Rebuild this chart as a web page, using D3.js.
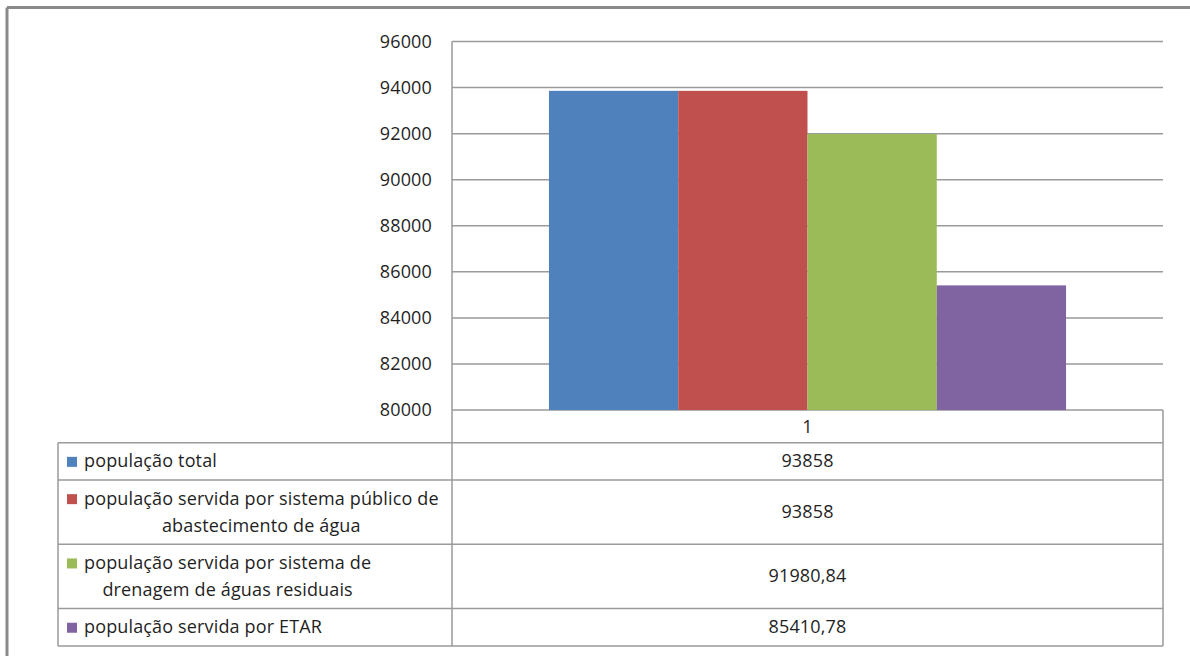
<!DOCTYPE html>
<html>
<head>
<meta charset="utf-8">
<script src="https://cdn.jsdelivr.net/npm/d3@7"></script>
<style>
  html, body { margin: 0; padding: 0; background: #fff; }
  svg { display: block; font-family: "Open Sans", "Noto Sans", sans-serif; letter-spacing: 0.15px; }
</style>
</head>
<body>
<svg id="chart" width="1190" height="656"></svg>
<script>
// Categories on the horizontal axis
const categories = ["1"];

// Series names (line breaks as shown in the data table)
const seriesNames = [
  ["população total"],
  ["população servida por sistema público de", "abastecimento de água"],
  ["população servida por sistema de", "drenagem de águas residuais"],
  ["população servida por ETAR"]
];

// One value per series for category "1"
const seriesValues = [93858, 93858, 91980.84, 85410.78];

// Series colours
const seriesColors = ["#4F81BD", "#C0504D", "#9BBB59", "#8064A2"];

// Value axis ticks
const yTicks = [80000, 82000, 84000, 86000, 88000, 90000, 92000, 94000, 96000];

const svg = d3.select("#chart");
const W = 1190, H = 656;

// Layout
const plotLeft = 452, plotRight = 1163, plotTop = 41.5, plotBottom = 410;
const tableLeft = 58;
const headerH = 32.7, rowBase = 37.3, lineStep = 27;
const gridColor = "#9a9a9a", tableColor = "#9a9a9a", textColor = "#1f1f1f";
const fontSize = 18;

// Outer frame (top and left edges)
svg.append("line").attr("x1", 7).attr("x2", W).attr("y1", 7.5).attr("y2", 7.5)
  .attr("stroke", "#8a8a8a").attr("stroke-width", 3);
svg.append("line").attr("x1", 7).attr("x2", 7).attr("y1", 7.5).attr("y2", H)
  .attr("stroke", "#8a8a8a").attr("stroke-width", 3);

// Scales
const y = d3.scaleLinear().domain([80000, 96000]).range([plotBottom, plotTop]);
const x0 = d3.scaleBand().domain(categories).range([plotLeft, plotRight]).padding(0);
// gap width 150%: 0.75 bar width on each side of the bar group
const bw = x0.bandwidth();
const barW = bw / (seriesValues.length + 1.5);
const x1 = d3.scaleBand().domain(d3.range(seriesValues.length))
  .range([barW * 0.75, bw - barW * 0.75]).padding(0);

// Tick labels via an axis
const yAxis = d3.axisLeft(y).tickValues(yTicks).tickSize(0).tickPadding(20)
  .tickFormat(d3.format("d"));
const gy = svg.append("g").attr("transform", `translate(${plotLeft},0)`).call(yAxis);
gy.select(".domain").remove();
gy.selectAll("text").attr("font-size", fontSize).attr("fill", textColor)
  .attr("font-family", "Open Sans, Noto Sans, sans-serif");

// Gridlines
svg.append("g").selectAll("line").data(yTicks).join("line")
  .attr("x1", plotLeft).attr("x2", plotRight)
  .attr("y1", d => y(d)).attr("y2", d => y(d))
  .attr("stroke", gridColor).attr("stroke-width", 1.5);

// Bars
const gBars = svg.append("g");
categories.forEach(cat => {
  gBars.selectAll(null).data(seriesValues).join("rect")
    .attr("x", (d, i) => x0(cat) + x1(i))
    .attr("width", x1.bandwidth())
    .attr("y", d => y(d))
    .attr("height", d => y(80000) - y(d))
    .attr("fill", (d, i) => seriesColors[i]);
});

// Data table
const rowHeights = seriesNames.map(lines => rowBase + lineStep * (lines.length - 1));
const rowTops = [];
let acc = plotBottom + headerH;
rowHeights.forEach(h => { rowTops.push(acc); acc += h; });
const tableBottom = acc;

const gT = svg.append("g");
// horizontal rules
rowTops.concat([tableBottom]).forEach(yy => {
  gT.append("line").attr("x1", tableLeft).attr("x2", plotRight)
    .attr("y1", yy).attr("y2", yy).attr("stroke", tableColor).attr("stroke-width", 1.5);
});
// verticals
gT.append("line").attr("x1", plotLeft).attr("x2", plotLeft)
  .attr("y1", plotTop).attr("y2", tableBottom).attr("stroke", tableColor).attr("stroke-width", 1.5);
gT.append("line").attr("x1", plotRight).attr("x2", plotRight)
  .attr("y1", plotBottom).attr("y2", tableBottom).attr("stroke", tableColor).attr("stroke-width", 1.5);
gT.append("line").attr("x1", tableLeft).attr("x2", tableLeft)
  .attr("y1", plotBottom + headerH).attr("y2", tableBottom).attr("stroke", tableColor).attr("stroke-width", 1.5);

// category header
categories.forEach(cat => {
  gT.append("text").attr("x", x0(cat) + bw / 2).attr("y", plotBottom + headerH / 2 + 6.5)
    .attr("text-anchor", "middle").attr("font-size", fontSize).attr("fill", textColor).text(cat);
});

const fmt = v => Number.isInteger(v) ? String(v) : v.toFixed(2).replace(".", ",");

seriesNames.forEach((lines, i) => {
  const top = rowTops[i], h = rowHeights[i];
  const cy = top + h / 2;
  const firstBase = cy + 6 - lineStep * (lines.length - 1) / 2;
  // legend key
  gT.append("rect").attr("x", 67).attr("y", firstBase - 10.5).attr("width", 10).attr("height", 10)
    .attr("fill", seriesColors[i]);
  const t1 = gT.append("text").attr("x", 84).attr("y", firstBase)
    .attr("font-size", fontSize).attr("fill", textColor).text(lines[0]);
  const w1 = t1.node().getComputedTextLength();
  lines.slice(1).forEach((ln, k) => {
    gT.append("text").attr("x", 84 + w1 / 2).attr("y", firstBase + lineStep * (k + 1))
      .attr("text-anchor", "middle").attr("font-size", fontSize).attr("fill", textColor).text(ln);
  });
  // value cell
  gT.append("text").attr("x", (plotLeft + plotRight) / 2).attr("y", cy + 6)
    .attr("text-anchor", "middle").attr("font-size", fontSize).attr("fill", textColor)
    .text(fmt(seriesValues[i]));
});
</script>
</body>
</html>
